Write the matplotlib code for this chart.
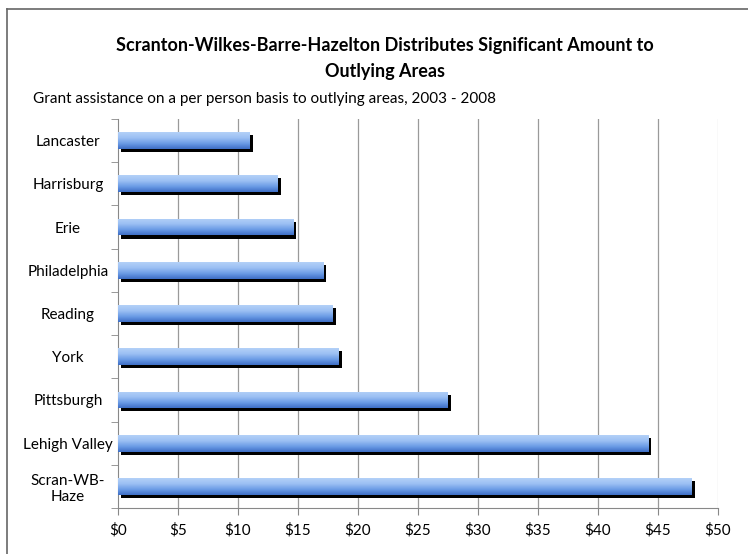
import matplotlib
matplotlib.use('Agg')
import matplotlib.pyplot as plt
import numpy as np
from matplotlib.colors import LinearSegmentedColormap
from matplotlib.lines import Line2D

# data
areas = ['Lancaster', 'Harrisburg', 'Erie', 'Philadelphia', 'Reading',
         'York', 'Pittsburgh', 'Lehigh Valley', 'Scran-WB-\nHaze']
per_person = [11.0, 13.3, 14.6, 17.1, 17.9, 18.4, 27.5, 44.2, 47.8]
xticks = [0, 5, 10, 15, 20, 25, 30, 35, 40, 45, 50]

plt.rcParams['font.family'] = ['Lato', 'DejaVu Sans']

fig = plt.figure(figsize=(7.48, 5.54), dpi=100)
ax = fig.add_axes([118/748, 1 - 508/554, 600/748, 389/554])

bar_h = 0.39
dx, dy = 0.25, 0.07  # shadow offset
grad_cmap = LinearSegmentedColormap.from_list(
    'excel', ['#b3d1f8', '#9cc0f3', '#6c9ce6', '#3e6fc6'])
grad = np.linspace(0, 1, 64).reshape(-1, 1)

ys = np.arange(len(areas))
for y, v in zip(ys, per_person):
    ax.barh(y + dy, v, left=dx, height=bar_h, color='black', zorder=3)
    bar = ax.barh(y, v, height=bar_h, color='none', zorder=4)[0]
    im = ax.imshow(grad, cmap=grad_cmap, aspect='auto', zorder=4,
                   extent=(0, v, y + bar_h / 2, y - bar_h / 2))
    im.set_clip_path(bar)

ax.set_xlim(0, 50)
ax.set_ylim(len(areas) - 0.5, -0.5)

ax.set_xticks(xticks)
ax.set_xticklabels([f'${t}' for t in xticks], fontsize=11)
ax.set_yticks(ys)
ax.set_yticklabels(areas, fontsize=11, ha='center')
ax.tick_params(axis='y', length=0, pad=36)
ax.set_yticks(np.arange(len(areas) + 1) - 0.5, minor=True)
ax.tick_params(axis='y', which='minor', length=5, color='#888888', direction='out')
ax.tick_params(axis='x', length=5, color='#888888', direction='out', pad=6)

# vertical gridlines, the last one fainter as in the original
for t in xticks[1:]:
    ax.axvline(t, color='#d0d0d0' if t == xticks[-1] else '#9a9a9a',
               linewidth=0.9, zorder=0)
for side in ['top', 'right']:
    ax.spines[side].set_visible(False)
for side in ['left', 'bottom']:
    ax.spines[side].set_color('#888888')

fig.text(385/748, 1 - 45/554, 'Scranton-Wilkes-Barre-Hazelton Distributes Significant Amount to',
         ha='center', va='center', fontsize=13, fontweight='bold')
fig.text(385/748, 1 - 71/554, 'Outlying Areas',
         ha='center', va='center', fontsize=13, fontweight='bold')
fig.text(33/748, 1 - 99/554,
         'Grant assistance on a per person basis to outlying areas, 2003 - 2008',
         ha='left', va='center', fontsize=11)

# chart frame (top and left visible)
fig.add_artist(Line2D([7/748, 1], [1 - 9/554, 1 - 9/554], color='#666666', lw=1.2))
fig.add_artist(Line2D([7/748, 7/748], [0, 1 - 9/554], color='#666666', lw=1.2))

fig.savefig('out.png', dpi=100)
